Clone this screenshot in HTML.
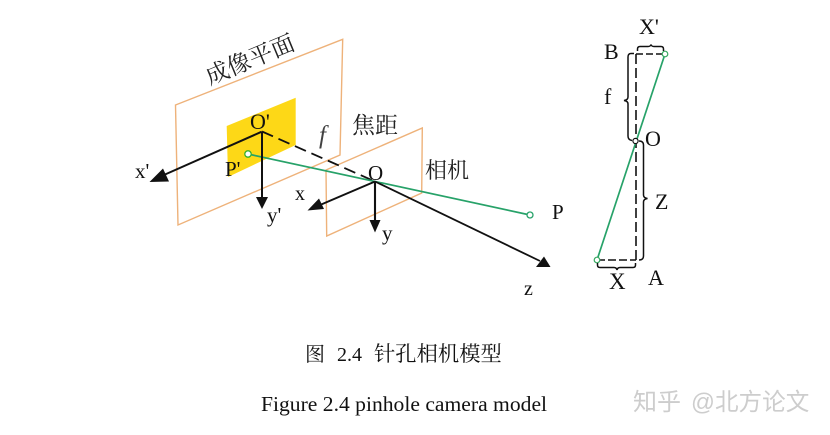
<!DOCTYPE html>
<html>
<head>
<meta charset="utf-8">
<style>
html,body{margin:0;padding:0;background:#fff;width:830px;height:435px;overflow:hidden}
svg{display:block}
.t{font-family:"Liberation Serif","Noto Serif CJK SC",serif;fill:#111}
.c{font-family:"Noto Serif CJK SC","Liberation Serif",serif;fill:#222}
</style>
</head>
<body>
<svg width="830" height="435" viewBox="0 0 830 435" xmlns="http://www.w3.org/2000/svg">
<rect width="830" height="435" fill="#fff"/>
<g style="filter:blur(0.3px)">
<!-- image plane -->
<polygon points="175.5,105 342.7,39.3 340,155 178,225" fill="none" stroke="#eeb27a" stroke-width="1.4"/>
<!-- sensor -->
<polygon points="226.7,126 295.7,97.7 295.7,145 228,177" fill="#fdd817"/>
<!-- camera plane -->
<polygon points="326,170 422.3,128 421.7,193 326.7,236" fill="none" stroke="#eeb27a" stroke-width="1.4"/>
<!-- dashed focal -->
<line x1="262" y1="131.5" x2="375" y2="181.5" stroke="#111" stroke-width="1.8" stroke-dasharray="12 6"/>
<!-- green ray -->
<line x1="248" y1="154" x2="530" y2="215" stroke="#27a269" stroke-width="1.7"/>
<circle cx="248" cy="154" r="3.2" fill="#fff" stroke="#36b030" stroke-width="1.3"/>
<circle cx="530" cy="215" r="3" fill="#fff" stroke="#27a269" stroke-width="1.3"/>
<!-- axes O' -->
<line x1="261.7" y1="131.7" x2="165" y2="174.5" stroke="#111" stroke-width="2"/>
<polygon points="149.5,182 163,168.5 169,181.5" fill="#111"/>
<line x1="262" y1="131.5" x2="262" y2="198" stroke="#111" stroke-width="2"/>
<polygon points="262,209 256,197 268,197" fill="#111"/>
<!-- axes O -->
<line x1="375" y1="181.5" x2="320" y2="205" stroke="#111" stroke-width="2"/>
<polygon points="307.5,210.5 319,198.5 324,209" fill="#111"/>
<line x1="375" y1="181.5" x2="375" y2="222" stroke="#111" stroke-width="2.1"/>
<polygon points="375,232.5 369.5,220 380.5,220" fill="#111"/>
<line x1="375" y1="181.5" x2="540" y2="261" stroke="#111" stroke-width="1.8"/>
<polygon points="550.5,267 536,267 544,256.5" fill="#111"/>
<!-- left labels -->
<text class="c" font-size="23.5" text-anchor="middle" transform="translate(253 67) rotate(-22.5)">成像平面</text>
<text class="c" x="352" y="133" font-size="23">焦距</text>
<text class="c" x="425" y="178" font-size="22">相机</text>
<text class="t" x="250" y="129" font-size="22">O'</text>
<text class="t" x="319" y="143" font-size="25" font-style="italic" fill-opacity="0.8">f</text>
<text class="t" x="135" y="178" font-size="21">x'</text>
<text class="t" x="225" y="176" font-size="21">P'</text>
<text class="t" x="267" y="222" font-size="21">y'</text>
<text class="t" x="368" y="180" font-size="21">O</text>
<text class="t" x="295" y="200" font-size="20">x</text>
<text class="t" x="382" y="240" font-size="21">y</text>
<text class="t" x="552" y="219" font-size="21">P</text>
<text class="t" x="524" y="295" font-size="20">z</text>
<!-- right diagram -->
<line x1="636" y1="54" x2="636" y2="260" stroke="#111" stroke-width="1.6" stroke-dasharray="10 4"/>
<line x1="636" y1="54" x2="665" y2="54" stroke="#111" stroke-width="1.6" stroke-dasharray="7 3"/>
<line x1="597" y1="260" x2="636" y2="260" stroke="#111" stroke-width="1.6" stroke-dasharray="8 3"/>
<line x1="665" y1="54" x2="597" y2="260" stroke="#27a269" stroke-width="1.7"/>
<circle cx="665" cy="54" r="2.8" fill="#fff" stroke="#36a860" stroke-width="1.2"/>
<circle cx="597" cy="260" r="2.8" fill="#fff" stroke="#36a860" stroke-width="1.2"/>
<circle cx="635.5" cy="141" r="2.6" fill="#fff" stroke="#111" stroke-width="1.2"/>
<!-- braces -->
<path d="M634,53.5 H631 Q628,53.5 628,57 V97 Q628,100 624,100.5 Q628,101 628,104 V136 Q628,140 632,140.5" fill="none" stroke="#111" stroke-width="1.5"/>
<path d="M639,141 Q643.5,141 643.5,145 V195 Q643.5,198 647.5,198.5 Q643.5,199 643.5,202 V256 Q643.5,260 639,260" fill="none" stroke="#111" stroke-width="1.5"/>
<path d="M637.5,51 V49 Q637.5,46.5 640,46.5 H648 Q650.5,46.5 651,44.5 Q651.5,46.5 654,46.5 H661 Q663.5,46.5 663.5,49 V51" fill="none" stroke="#111" stroke-width="1.5"/>
<path d="M597.5,263 V265 Q597.5,267.5 600,267.5 H614 Q616.5,267.5 617,270 Q617.5,267.5 620,267.5 H633 Q635.5,267.5 635.5,265 V263" fill="none" stroke="#111" stroke-width="1.5"/>
<text class="t" x="639" y="34" font-size="22">X'</text>
<text class="t" x="604" y="59" font-size="22">B</text>
<text class="t" x="604" y="104" font-size="22">f</text>
<text class="t" x="645" y="146" font-size="22">O</text>
<text class="t" x="655" y="209" font-size="22">Z</text>
<text class="t" x="609" y="289" font-size="23">X</text>
<text class="t" x="648" y="285" font-size="22">A</text>
<!-- captions -->
<text x="305" y="361" font-size="20" fill="#111" font-family="'Noto Serif CJK SC',serif">图</text>
<text x="337" y="361" font-size="20" fill="#111" font-family="'Liberation Serif',serif">2.4</text>
<text x="374" y="361" font-size="21.3" fill="#111" font-family="'Noto Serif CJK SC',serif">针孔相机模型</text>
<text x="261" y="411" font-size="21.6" fill="#111" font-family="'Liberation Serif',serif">Figure 2.4 pinhole camera model</text>
<!-- watermark -->
<text x="633" y="410" font-size="24" fill="#cdcdcd" font-family="'Liberation Sans','Noto Sans CJK SC',sans-serif">知乎</text>
<text x="691" y="410" font-size="23.6" fill="#cdcdcd" font-family="'Liberation Sans','Noto Sans CJK SC',sans-serif">@北方论文</text>
</g>
</svg>
</body>
</html>
